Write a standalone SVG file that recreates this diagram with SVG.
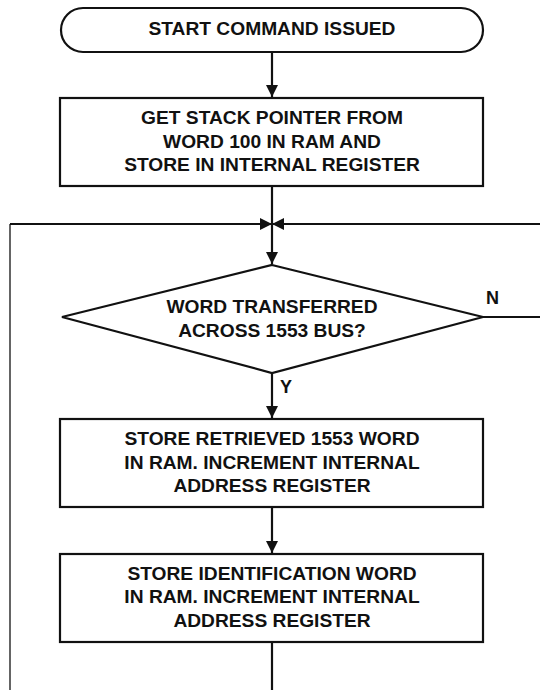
<svg xmlns="http://www.w3.org/2000/svg" width="540" height="690" viewBox="0 0 540 690">
<style>
.box{fill:#fff;stroke:#111;stroke-width:2.2}
.ln{fill:none;stroke:#111;stroke-width:2.2}
.t{font-family:"Liberation Sans",Arial,sans-serif;font-weight:bold;font-size:19.2px;fill:#111;text-anchor:middle}
.lb{font-family:"Liberation Sans",Arial,sans-serif;font-weight:bold;font-size:18px;fill:#111}
</style>
<defs>
<marker id="ah" markerWidth="14" markerHeight="14" refX="12" refY="6" orient="auto" markerUnits="userSpaceOnUse">
<path d="M0,0 L12,6 L0,12 Z" fill="#111"/>
</marker>
</defs>
<g id="connectors">
<line class="ln" x1="272" y1="52" x2="272" y2="97" marker-end="url(#ah)"/>
<line class="ln" x1="272" y1="186" x2="272" y2="224"/>
<line class="ln" x1="10" y1="224" x2="272" y2="224" marker-end="url(#ah)"/>
<line class="ln" x1="540" y1="224" x2="272" y2="224" marker-end="url(#ah)"/>
<line x1="10" y1="224" x2="10" y2="690" stroke="#111" stroke-width="1.3"/>
<line class="ln" x1="272" y1="224" x2="272" y2="264" marker-end="url(#ah)"/>
<line class="ln" x1="483" y1="317" x2="540" y2="317"/>
<line class="ln" x1="272" y1="373" x2="272" y2="418" marker-end="url(#ah)"/>
<line class="ln" x1="272" y1="507" x2="272" y2="553" marker-end="url(#ah)"/>
<line class="ln" x1="272" y1="642" x2="272" y2="690"/>
<text class="lb" x="486" y="304">N</text>
<text class="lb" x="280" y="393">Y</text>
</g>
<g id="start">
<rect class="box" x="61" y="8" width="422" height="44" rx="22" ry="22"/>
<text class="t" x="272" y="35">START COMMAND ISSUED</text>
</g>
<g id="get-stack-pointer">
<rect class="box" x="60" y="98" width="423" height="88"/>
<text class="t" x="272" y="124">GET STACK POINTER FROM</text>
<text class="t" x="272" y="148">WORD 100 IN RAM AND</text>
<text class="t" x="272" y="171">STORE IN INTERNAL REGISTER</text>
</g>
<g id="decision">
<polygon class="box" points="272,265 483,317 272,373 62,317"/>
<text class="t" x="272" y="313">WORD TRANSFERRED</text>
<text class="t" x="272" y="337">ACROSS 1553 BUS?</text>
</g>
<g id="store-retrieved">
<rect class="box" x="60" y="419" width="423" height="88"/>
<text class="t" x="272" y="445">STORE RETRIEVED 1553 WORD</text>
<text class="t" x="272" y="469">IN RAM. INCREMENT INTERNAL</text>
<text class="t" x="272" y="492">ADDRESS REGISTER</text>
</g>
<g id="store-identification">
<rect class="box" x="60" y="554" width="423" height="88"/>
<text class="t" x="272" y="580">STORE IDENTIFICATION WORD</text>
<text class="t" x="272" y="603">IN RAM. INCREMENT INTERNAL</text>
<text class="t" x="272" y="627">ADDRESS REGISTER</text>
</g>
</svg>
